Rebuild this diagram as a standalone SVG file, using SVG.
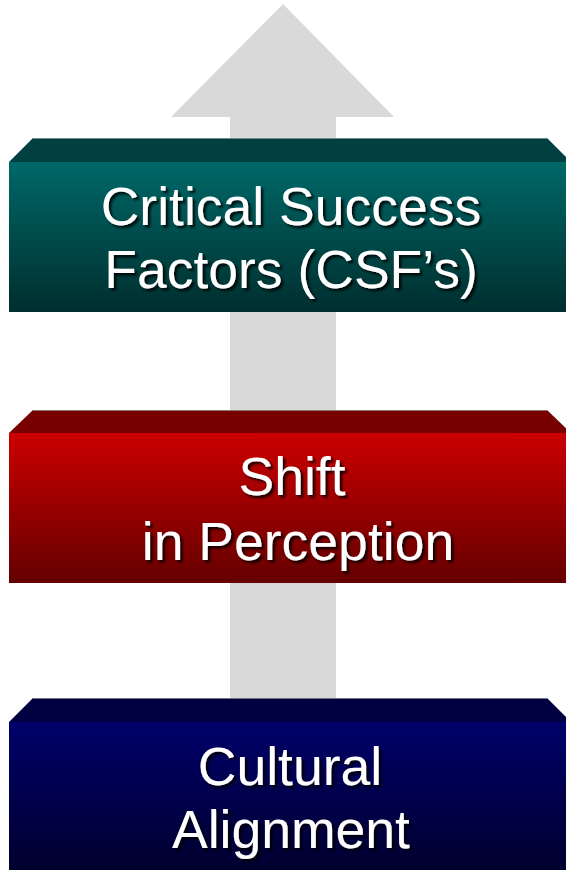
<svg xmlns="http://www.w3.org/2000/svg" width="566" height="870" viewBox="0 0 566 870">
  <defs>
    <linearGradient id="gTeal" x1="0" y1="0" x2="0" y2="1">
      <stop offset="0" stop-color="#006868"/>
      <stop offset="1" stop-color="#002e2e"/>
    </linearGradient>
    <linearGradient id="gRed" x1="0" y1="0" x2="0" y2="1">
      <stop offset="0" stop-color="#cc0000"/>
      <stop offset="1" stop-color="#640000"/>
    </linearGradient>
    <linearGradient id="gBlue" x1="0" y1="0" x2="0" y2="1">
      <stop offset="0" stop-color="#00006a"/>
      <stop offset="1" stop-color="#00002e"/>
    </linearGradient>
    <filter id="shadow" x="-10%" y="-20%" width="130%" height="150%">
      <feDropShadow dx="2.5" dy="2.5" stdDeviation="1" flood-color="#000" flood-opacity="0.85"/>
    </filter>
  </defs>
  <style>
    .label { font-family: "Liberation Sans", Arial, sans-serif; font-size: 53.5px; fill: #ffffff; text-anchor: middle; filter: url(#shadow); }
    .rim { fill: none; stroke: #9aa6a6; stroke-width: 1; stroke-opacity: 0.7; }
  </style>

  <!-- upward arrow behind the blocks -->
  <g id="connectors">
    <polygon points="283,4 394,117 336,117 336,698 230,698 230,117 171,117" fill="#d9d9d9"/>
  </g>

  <g id="csf">
    <polygon points="9,162 33,138 547,138 571,162" fill="#004040"/>
    <line class="rim" x1="33" y1="138.5" x2="547" y2="138.5"/>
    <rect x="9" y="162" width="562" height="150" fill="url(#gTeal)"/>
    <text class="label" x="291" y="225">Critical Success</text>
    <text class="label" x="291" y="288">Factors (CSF’s)</text>
  </g>

  <g id="shift">
    <polygon points="9,433 33,410 547,410 571,433" fill="#780000"/>
    <line class="rim" x1="33" y1="410.5" x2="547" y2="410.5"/>
    <rect x="9" y="433" width="562" height="150" fill="url(#gRed)"/>
    <text class="label" x="292" y="495">Shift</text>
    <text class="label" x="298" y="560">in Perception</text>
  </g>

  <g id="cultural">
    <polygon points="9,722 33,698 547,698 571,722" fill="#000040"/>
    <line class="rim" x1="33" y1="698.5" x2="547" y2="698.5"/>
    <rect x="9" y="722" width="562" height="150" fill="url(#gBlue)"/>
    <text class="label" x="290" y="785">Cultural</text>
    <text class="label" x="291" y="848">Alignment</text>
  </g>
</svg>
